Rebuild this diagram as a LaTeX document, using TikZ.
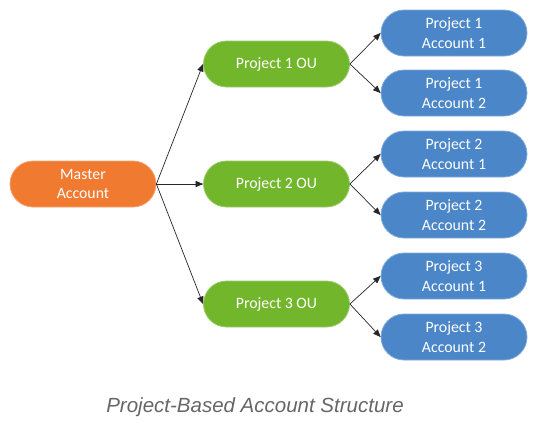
\documentclass[tikz,border=0pt]{standalone}
\usepackage{fontspec}
\setmainfont{Carlito}
\newfontfamily\captionfont{Liberation Sans}
\usetikzlibrary{arrows}
\definecolor{masterorange}{HTML}{F07A30}
\definecolor{ougreen}{HTML}{72B62B}
\definecolor{accblue}{HTML}{4A86C8}
\definecolor{captiongray}{HTML}{666666}
\tikzset{
  pill/.style={minimum width=146pt,minimum height=46pt,rounded corners=23pt,
    text=white,align=center,font=\fontsize{15.8}{19.5}\selectfont,inner sep=0pt},
  masterbox/.style={pill,fill=masterorange,draw=masterorange!70!white,line width=0.8pt},
  oubox/.style={pill,fill=ougreen,draw=ougreen!70!white,line width=0.8pt},
  accbox/.style={pill,fill=accblue,draw=accblue!70!white,line width=0.8pt},
  link/.style={->,line width=0.7pt,black!85}
}
\begin{document}
\begin{tikzpicture}[line cap=round,line join=round,>=triangle 45,x=1pt,y=-1pt]
\useasboundingbox (0,0) rectangle (535,429);
\node[masterbox] (master) at (83,184) {Master\\Account};
\node[oubox] (ou1) at (276.5,64) {Project 1 OU};
\node[oubox] (ou2) at (276.5,184) {Project 2 OU};
\node[oubox] (ou3) at (276.5,304) {Project 3 OU};
\node[accbox] (p1a1) at (454,33) {Project 1\\Account 1};
\node[accbox] (p1a2) at (454,93) {Project 1\\Account 2};
\node[accbox] (p2a1) at (454,154) {Project 2\\Account 1};
\node[accbox] (p2a2) at (454,215) {Project 2\\Account 2};
\node[accbox] (p3a1) at (454,276) {Project 3\\Account 1};
\node[accbox] (p3a2) at (454,337) {Project 3\\Account 2};
\draw [link] (master.east) -- (ou1.west);
\draw [link] (master.east) -- (ou2.west);
\draw [link] (master.east) -- (ou3.west);
\draw [link] (ou1.east) -- (p1a1.west);
\draw [link] (ou1.east) -- (p1a2.west);
\draw [link] (ou2.east) -- (p2a1.west);
\draw [link] (ou2.east) -- (p2a2.west);
\draw [link] (ou3.east) -- (p3a1.west);
\draw [link] (ou3.east) -- (p3a2.west);
\node[font=\captionfont\itshape\fontsize{20.5}{24}\selectfont,text=captiongray] (caption) at (255,407) {Project-Based Account Structure};
\end{tikzpicture}
\end{document}
